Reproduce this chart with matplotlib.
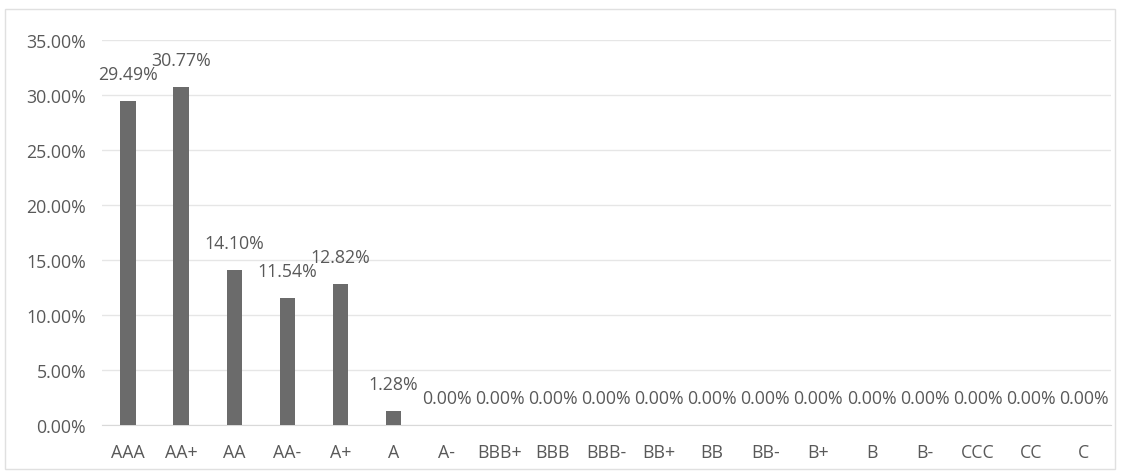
import matplotlib
matplotlib.use("Agg")
import matplotlib.pyplot as plt
from matplotlib.patches import Rectangle

categories = ["AAA", "AA+", "AA", "AA-", "A+", "A", "A-", "BBB+", "BBB", "BBB-",
              "BB+", "BB", "BB-", "B+", "B", "B-", "CCC", "CC", "C"]
shares = [29.49, 30.77, 14.10, 11.54, 12.82, 1.28, 0, 0, 0, 0, 0, 0, 0, 0, 0, 0, 0, 0, 0]
yticks = [0, 5, 10, 15, 20, 25, 30, 35]

plt.rcParams['font.family'] = ['Open Sans', 'DejaVu Sans']
txt = '#595959'
fs = 12.8

fig = plt.figure(figsize=(11.29, 4.77), dpi=100)
W, H = 1129, 477
ax = fig.add_axes([101.5 / W, 1 - 426 / H, (1110.5 - 101.5) / W, (426 - 41) / H])

x = range(len(categories))
ax.bar(x, shares, width=0.29, color='#6b6b6b', zorder=3)
for xi, v in zip(x, shares):
    ax.annotate(f"{v:.2f}%", (xi, v), xytext=(0, 27), textcoords='offset pixels',
                ha='center', va='center', fontsize=fs, color=txt, zorder=4)

ax.set_xlim(-0.5, len(categories) - 0.5)
ax.set_ylim(0, 35)
ax.set_yticks(yticks)
ax.set_yticklabels([f"{t:.2f}%" for t in yticks], fontsize=fs, color=txt)
ax.set_xticks(list(x))
ax.set_xticklabels(categories, fontsize=fs, color=txt)
ax.tick_params(axis='both', length=0)
ax.tick_params(axis='x', pad=13)
ax.tick_params(axis='y', pad=11)
ax.grid(axis='y', color='#e6e6e6', linewidth=1, zorder=0)
for s in ['top', 'right', 'left']:
    ax.spines[s].set_visible(False)
ax.spines['bottom'].set_color('#d9d9d9')

fig.patches.append(Rectangle((5 / W, 1 - 470 / H), 1110 / W, 460 / H, transform=fig.transFigure,
                             fill=False, edgecolor='#e0e0e0', linewidth=1))

fig.savefig('out.png', dpi=100)
